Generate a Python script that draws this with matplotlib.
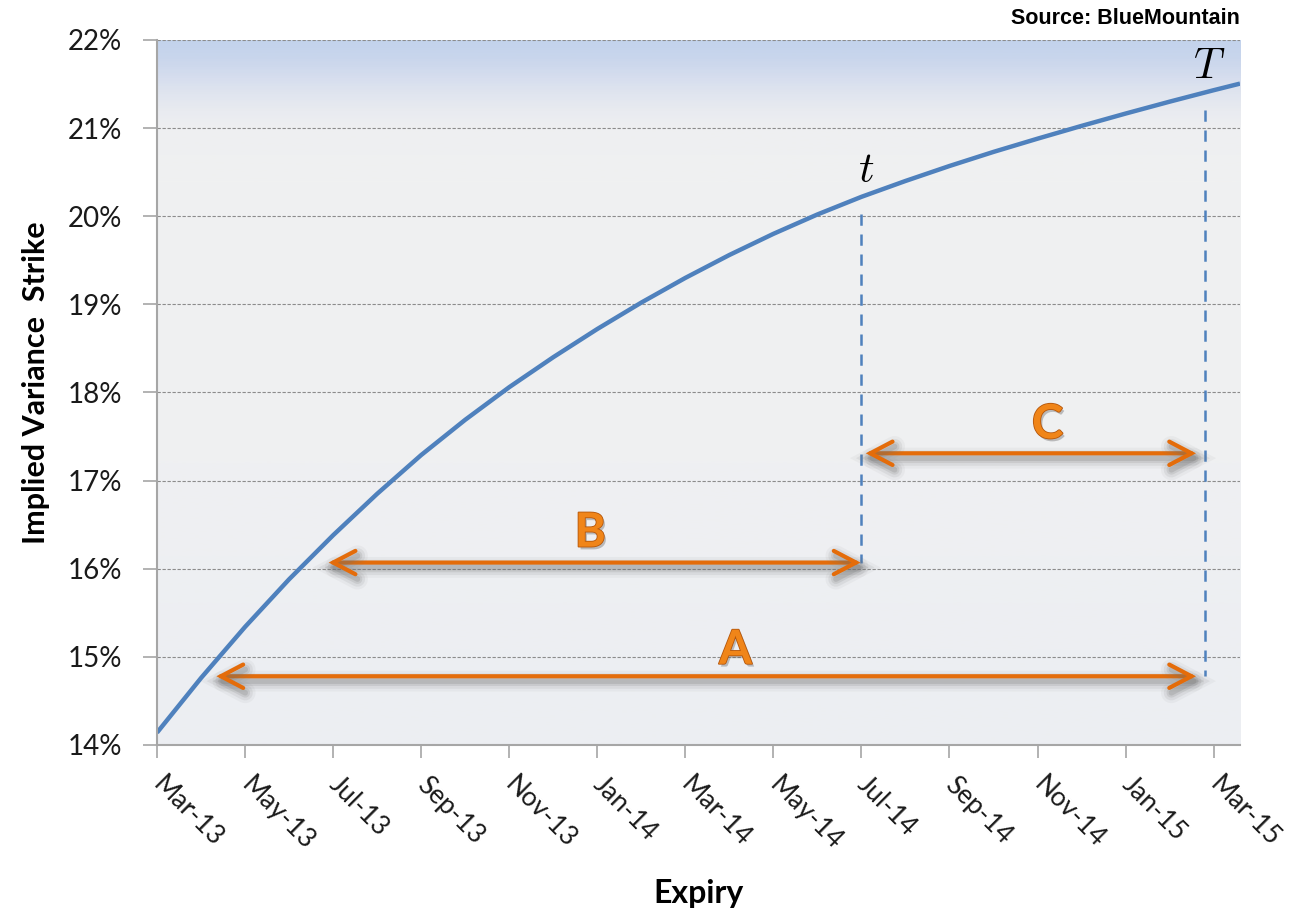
import matplotlib
matplotlib.use('Agg')
import matplotlib.pyplot as plt
import matplotlib.patheffects as pe
from matplotlib.colors import LinearSegmentedColormap
from matplotlib.ticker import FuncFormatter
import numpy as np

# implied variance strike curve, months after Mar-13
expiry_months = [0, 1, 2, 3, 4, 5, 6, 7, 8, 9, 10, 11, 12,
                 13, 14, 15, 16, 17, 18, 19, 20, 21, 22, 23, 24, 24.6]
strike = [14.14, 14.76, 15.34, 15.88, 16.38, 16.85, 17.29, 17.69, 18.06,
          18.40, 18.72, 19.02, 19.30, 19.56, 19.80, 20.02, 20.22, 20.40,
          20.57, 20.73, 20.88, 21.025, 21.165, 21.30, 21.43, 21.505]

tick_months = [0, 2, 4, 6, 8, 10, 12, 14, 16, 18, 20, 22, 24]
tick_labels = ["Mar-13", "May-13", "Jul-13", "Sep-13", "Nov-13", "Jan-14",
               "Mar-14", "May-14", "Jul-14", "Sep-14", "Nov-14", "Jan-15",
               "Mar-15"]

# forward start t and maturity T
t_month = 16.0
T_month = 23.8

# interval arrows: label, start month, end month, level
intervals = [("A", 1.35, 23.6, 14.78),
             ("B", 3.9, 15.98, 16.07),
             ("C", 16.1, 23.6, 17.31)]

blue = '#4F81BD'
orange = '#E46C0A'
axis_grey = '#A6A6A6'

fig = plt.figure(figsize=(12.89, 9.15), dpi=100)
ax = fig.add_axes([0.1218, 0.1858, 0.8402, 0.7705])

x_max = 24.6
ax.set_xlim(0, x_max)
ax.set_ylim(14, 22)

# background fade: blue at the top into light grey
stops = [(0.0, '#C3D3EC'), (0.025, '#C9D6EC'), (0.05, '#D5DDEE'),
         (0.075, '#E0E5EF'), (0.1, '#E9EBF0'), (0.125, '#EEEFF1'),
         (0.2, '#F0F1F1'), (0.6, '#EFF0F2'), (1.0, '#ECEEF2')]
cmap = LinearSegmentedColormap.from_list('bg', stops)
grad = np.linspace(0, 1, 600).reshape(-1, 1)
ax.imshow(grad, extent=[0, x_max, 14, 22], origin='upper', aspect='auto',
          cmap=cmap, zorder=0, interpolation='bilinear')

for v in range(15, 23):
    ax.axhline(v, color='#8C8C8C', lw=0.8, ls=(0, (3, 1.5)), zorder=1)

ax.plot(expiry_months, strike, color=blue, lw=3.2, zorder=4,
        solid_capstyle='butt', solid_joinstyle='round')

# dashed markers below t and T
ax.plot([t_month, t_month], [20.03, 16.07], color=blue, lw=1.8,
        ls=(0, (4.5, 3.5)), zorder=3)
ax.plot([T_month, T_month], [21.2, 14.78], color=blue, lw=1.8,
        ls=(0, (4.5, 3.5)), zorder=3)
ax.text(16.11, 20.52, '$t$', fontsize=31, ha='center', va='center',
        math_fontfamily='cm', zorder=5)
ax.text(23.91, 21.70, '$T$', fontsize=31, ha='center', va='center',
        math_fontfamily='cm', zorder=5)

shadow = [pe.Stroke(offset=(1.5, -3.5), linewidth=15, foreground='#6f6f6f', alpha=0.06),
          pe.Stroke(offset=(1.5, -3.5), linewidth=11, foreground='#6f6f6f', alpha=0.10),
          pe.Stroke(offset=(1.5, -3.5), linewidth=7, foreground='#6f6f6f', alpha=0.15),
          pe.Stroke(offset=(1.5, -3.5), linewidth=4, foreground='#6f6f6f', alpha=0.2),
          pe.Normal()]

letter_pos = {"A": (13.14, 15.08), "B": (9.84, 16.41), "C": (20.23, 17.64)}
for name, x0, x1, level in intervals:
    ann = ax.annotate('', xy=(x1, level), xytext=(x0, level),
                      arrowprops=dict(arrowstyle='<->,head_length=0.8,head_width=0.42',
                                      color=orange, lw=3, shrinkA=0, shrinkB=0,
                                      mutation_scale=20, joinstyle='miter'),
                      zorder=6)
    ann.arrow_patch.set_path_effects(shadow)
    lx, ly = letter_pos[name]
    ax.text(lx, ly, name, fontsize=34, fontweight='bold', family='Lato',
            color='#F08519', ha='center', va='center', zorder=7,
            path_effects=[pe.SimplePatchShadow(offset=(1.5, -2), shadow_rgbFace='#555555', alpha=0.35),
                          pe.Stroke(linewidth=1.2, foreground='#B4560C'),
                          pe.Normal()])

for side in ['top', 'right']:
    ax.spines[side].set_visible(False)
for side in ['left', 'bottom']:
    ax.spines[side].set_color(axis_grey)
    ax.spines[side].set_linewidth(1.5)
    ax.spines[side].set_zorder(8)

ax.set_yticks(range(14, 23))
ax.yaxis.set_major_formatter(FuncFormatter(lambda v, p: '%d%%' % v))
ax.set_xticks(tick_months)
ax.set_xticklabels(tick_labels, rotation=-45, ha='left', va='center',
                   rotation_mode='anchor')
ax.tick_params(axis='y', length=10, width=1.2, color=axis_grey, pad=15,
               labelsize=20, labelcolor='#1a1a1a')
ax.tick_params(axis='x', length=9, width=1.2, color=axis_grey, pad=17,
               labelsize=19, labelcolor='#1a1a1a')
for lab in ax.get_xticklabels() + ax.get_yticklabels():
    lab.set_family('Lato')

fig.text(698 / 1289, 1 - 893 / 915, 'Expiry', fontsize=23, fontweight='bold',
         family='Lato', ha='center', va='center')
fig.text(36 / 1289, 1 - 383 / 915, 'Implied Variance  Strike', fontsize=22,
         fontweight='bold', family='Lato', ha='center', va='center', rotation=90)
fig.text(1240 / 1289, 1 - 18 / 915, 'Source: BlueMountain', fontsize=15.5,
         fontweight='bold', family='Liberation Sans', ha='right', va='center')

plt.savefig('out.png', dpi=100)
